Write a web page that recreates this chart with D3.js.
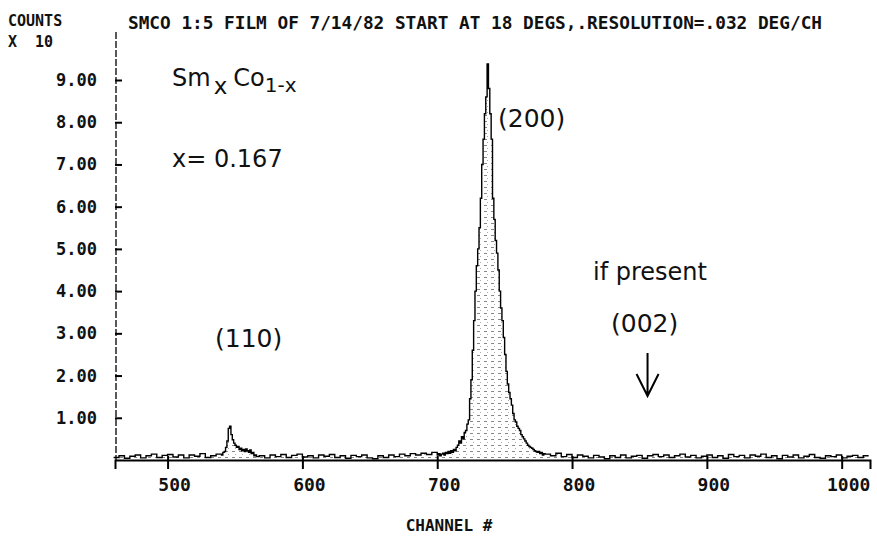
<!DOCTYPE html>
<meta charset="utf-8">
<script src="https://cdn.jsdelivr.net/npm/d3@7"></script>
<style>
body { margin: 0; background: #fff; }
.plot text { font-family: "DejaVu Sans Mono", monospace; font-weight: bold; fill: #111; }
.plot text.note { font-family: "DejaVu Sans", sans-serif; font-weight: normal; fill: #111; }
</style>
<body>
<div id="chart"></div>
<script>
// ---------------- DATA ----------------
// counts (x 10^?) per channel
const xTicks = [500, 600, 700, 800, 900, 1000];
const yTicks = [1, 2, 3, 4, 5, 6, 7, 8, 9];

// background 460..536, every 4 channels
const bgLow = [0.06,0.10,0.04,0.09,0.12,0.05,0.10,0.14,0.06,0.11,0.13,0.07,0.12,0.05,0.12,0.09,0.15,0.06,0.10,0.14];
// (110) peak, channels 540..566
const peak110 = [0.12,0.18,0.20,0.30,0.45,0.75,0.80,0.60,0.48,0.40,0.35,0.30,0.32,0.25,0.28,0.22,0.25,0.20,0.26,0.22,0.18,0.24,0.15,0.18,0.10,0.12,0.08];
// background 568..696, every 4 channels
const bgMid = [0.10,0.05,0.12,0.08,0.13,0.06,0.11,0.14,0.07,0.10,0.05,0.12,0.09,0.13,0.06,0.10,0.04,0.11,0.08,0.12,0.05,0.03,0.10,0.06,0.12,0.08,0.14,0.10,0.15,0.12,0.16,0.13,0.18];
// (200) peak, channels 700..779
const peak200 = [0.12,0.15,0.10,0.14,0.16,0.12,0.18,0.15,0.20,0.16,
                 0.22,0.18,0.25,0.22,0.30,0.35,0.45,0.40,0.55,0.50,
                 0.65,0.70,0.85,0.95,1.45,1.90,2.60,3.30,4.00,4.60,
                 5.00,5.50,6.20,7.00,7.60,8.20,8.60,9.38,8.80,8.20,
                 7.60,6.20,5.70,5.20,4.90,4.50,4.00,3.60,3.30,2.90,
                 2.50,2.10,1.80,1.60,1.45,1.30,1.10,0.95,0.90,0.80,
                 0.75,0.70,0.60,0.55,0.50,0.45,0.40,0.35,0.32,0.30,
                 0.28,0.25,0.22,0.20,0.18,0.20,0.15,0.18,0.12,0.15];
// background 780..1016, every 4 channels
const bgHigh = [0.14,0.10,0.16,0.08,0.13,0.06,0.12,0.09,0.05,0.11,
                0.07,0.03,0.10,0.06,0.12,0.05,0.09,0.11,0.04,0.10,
                0.13,0.08,0.12,0.06,0.10,0.14,0.07,0.11,0.05,0.09,
                0.12,0.06,0.10,0.04,0.13,0.08,0.11,0.05,0.12,0.09,
                0.14,0.06,0.10,0.03,0.11,0.07,0.12,0.05,0.09,0.13,
                0.06,0.04,0.10,0.08,0.12,0.05,0.09,0.11,0.06,0.10];

const spectrum = [];
function addSeg(start, step, vals) {
  vals.forEach(function(v, i) { spectrum.push({ch: start + i * step, c: v}); });
}
addSeg(460, 4, bgLow);
addSeg(540, 1, peak110);
addSeg(568, 4, bgMid);
addSeg(700, 1, peak200);
addSeg(780, 4, bgHigh);
spectrum.push({ch: 1020, c: bgHigh[bgHigh.length - 1]});

// ---------------- LAYOUT ----------------
const W = 877, H = 541;
const margin = {top: 80, right: 7, bottom: 81, left: 115};

const svg = d3.select("#chart").append("svg")
    .attr("width", W).attr("height", H)
    .attr("class", "plot");

const x = d3.scaleLinear().domain([461, 1021]).range([margin.left, W - margin.right]);
const y = d3.scaleLinear().domain([0, 9]).range([H - margin.bottom, margin.top]);

// speckled fill like the scanned plot
const pat = svg.append("defs").append("pattern")
    .attr("id", "speck").attr("patternUnits", "userSpaceOnUse")
    .attr("width", 7).attr("height", 6);
pat.append("rect").attr("width", 7).attr("height", 6).attr("fill", "#fff");
pat.append("rect").attr("x", 1).attr("y", 1).attr("width", 3).attr("height", 1).attr("fill", "#888");
pat.append("rect").attr("x", 4).attr("y", 4).attr("width", 1).attr("height", 1).attr("fill", "#aaa");

// ---------------- SPECTRUM ----------------
const area = d3.area()
    .x(d => x(d.ch)).y0(y(0)).y1(d => y(d.c))
    .curve(d3.curveStepAfter);
const line = d3.line()
    .x(d => x(d.ch)).y(d => y(d.c))
    .curve(d3.curveStepAfter);

svg.append("path").datum(spectrum)
    .attr("d", area).attr("fill", "url(#speck)");
svg.append("path").datum(spectrum)
    .attr("d", line).attr("fill", "none")
    .attr("stroke", "#000").attr("stroke-width", 1.4);

// ---------------- AXES ----------------
const yAxis = d3.axisRight(y).tickValues(yTicks).tickSize(7).tickFormat("");
const gy = svg.append("g").attr("transform", "translate(" + margin.left + ",0)").call(yAxis);
gy.select(".domain").remove();
gy.selectAll("line").attr("stroke", "#000").attr("stroke-width", 2);
svg.append("line")
    .attr("x1", margin.left + 1).attr("x2", margin.left + 1)
    .attr("y1", 32).attr("y2", y(0))
    .attr("stroke", "#000").attr("stroke-width", 1.3)
    .attr("stroke-dasharray", "7,2");

svg.selectAll(".ylab").data(yTicks).enter().append("text")
    .attr("class", "ylab")
    .attr("x", 97).attr("y", d => y(d) + 6)
    .attr("text-anchor", "end")
    .style("font-size", "17px")
    .text(d => d.toFixed(2));

const xAxis = d3.axisBottom(x).tickValues(xTicks).tickSize(9).tickFormat("");
const gx = svg.append("g").attr("transform", "translate(0," + y(0) + ")").call(xAxis);
gx.select(".domain").attr("stroke", "#000").attr("stroke-width", 2);
gx.selectAll("line").attr("stroke", "#000").attr("stroke-width", 2).attr("y1", -4);

svg.selectAll(".xlab").data(xTicks).enter().append("text")
    .attr("class", "xlab")
    .attr("x", d => x(d) + 7).attr("y", 491)
    .attr("text-anchor", "middle")
    .style("font-size", "18px")
    .text(d => d);

svg.append("text").attr("x", 449).attr("y", 531)
    .attr("text-anchor", "middle").style("font-size", "16px")
    .text("CHANNEL #");

// header
svg.append("text").attr("x", 8).attr("y", 26).style("font-size", "15px").text("COUNTS");
svg.append("text").attr("x", 8).attr("y", 47).style("font-size", "15px").attr("xml:space", "preserve").text("X  10");
svg.append("text").attr("x", 128).attr("y", 29).style("font-size", "18px")
    .attr("textLength", 694).attr("lengthAdjust", "spacingAndGlyphs")
    .text("SMCO 1:5 FILM OF 7/14/82 START AT 18 DEGS,.RESOLUTION=.032 DEG/CH");

// ---------------- HAND NOTES ----------------
const formula = svg.append("text").attr("class", "note").attr("x", 172).attr("y", 86).style("font-size", "24px");
formula.append("tspan").text("Sm");
formula.append("tspan").attr("dy", 8).attr("dx", 3).style("font-size", "23px").text("x");
formula.append("tspan").attr("dy", -8).attr("dx", 6).text("Co");
formula.append("tspan").attr("dy", 6).style("font-size", "20px").text("1-x");

svg.append("text").attr("class", "note").attr("x", 172).attr("y", 167).style("font-size", "24px").text("x= 0.167");
svg.append("text").attr("class", "note").attr("x", 498).attr("y", 127).style("font-size", "25px").text("(200)");
svg.append("text").attr("class", "note").attr("x", 215).attr("y", 347).style("font-size", "25px").text("(110)");
svg.append("text").attr("class", "note").attr("x", 593).attr("y", 280).style("font-size", "24px").text("if present");
svg.append("text").attr("class", "note").attr("x", 611).attr("y", 332).style("font-size", "25px").text("(002)");

// arrow at the expected (002) position
const ax = x(856);
svg.append("path")
    .attr("d", "M" + ax + ",353 V396 M" + (ax - 11) + ",374 L" + ax + ",396 L" + (ax + 11) + ",374")
    .attr("fill", "none").attr("stroke", "#000").attr("stroke-width", 2);
</script>
</body>
